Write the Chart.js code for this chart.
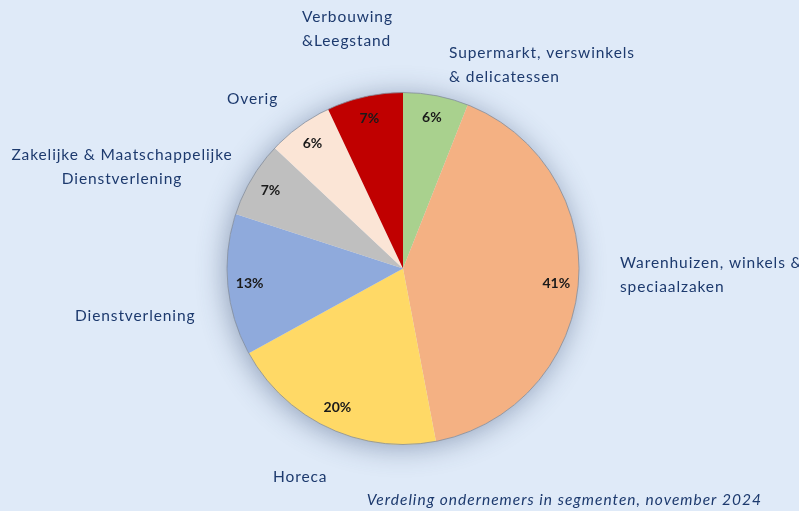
<!DOCTYPE html>
<html>
<head>
<meta charset="utf-8">
<script src="https://cdn.jsdelivr.net/npm/chart.js@4.4.1/dist/chart.umd.min.js"></script>
<style>
  html, body { margin:0; padding:0; background:#dfeaf8; }
  #wrap { width:799px; height:511px; position:relative; }
</style>
</head>
<body>
<div id="wrap"><canvas id="segChart" width="799" height="511"></canvas></div>
<script>
// data
const segments = ['Supermarkt, verswinkels & delicatessen', 'Warenhuizen, winkels & speciaalzaken', 'Horeca',
  'Dienstverlening', 'Zakelijke & Maatschappelijke Dienstverlening', 'Overig', 'Verbouwing &Leegstand']
const shares = [6, 41, 20, 13, 7, 6, 7]
const sliceColors = ['#a9d18e', '#f4b183', '#ffd966', '#8faadc', '#bfbfbf', '#fbe5d6', '#c00000']
const caption = 'Verdeling ondernemers in segmenten, november 2024'

// outside label lines + where they sit (x / align, first line y)
const labelLines = [
  ['Supermarkt, verswinkels', '& delicatessen'],
  ['Warenhuizen, winkels &', 'speciaalzaken'],
  ['Horeca'],
  ['Dienstverlening'],
  ['Zakelijke & Maatschappelijke', 'Dienstverlening'],
  ['Overig'],
  ['Verbouwing', '&Leegstand']
]
const labelSpots = [
  {x:449, y:53, align:'left'},
  {x:620, y:263, align:'left'},
  {x:273, y:477, align:'left'},
  {x:75, y:316, align:'left'},
  {x:122, y:155, align:'center'},
  {x:227, y:99, align:'left'},
  {x:302, y:17, align:'left'}
]

const textFont = '"Lato", "Noto Sans", sans-serif'
const navy = '#1d3a6e'

const pieDecor = {
  id:'pieDecor',
  beforeDatasetsDraw(chart){
    const arc = chart.getDatasetMeta(0).data[0]
    if(!arc) return
    const ctx = chart.ctx
    ctx.save()
    ctx.shadowColor = 'rgba(50,70,110,0.45)'
    ctx.shadowBlur = 28
    ctx.shadowOffsetX = -2
    ctx.shadowOffsetY = 3
    ctx.beginPath()
    ctx.arc(arc.x, arc.y, arc.outerRadius, 0, Math.PI*2)
    ctx.fillStyle = '#dfeaf8'
    ctx.fill()
    ctx.restore()
  },
  afterDatasetsDraw(chart){
    const meta = chart.getDatasetMeta(0)
    const ctx = chart.ctx
    const a0 = meta.data[0]
    ctx.save()
    ctx.beginPath()
    ctx.arc(a0.x, a0.y, a0.outerRadius, 0, Math.PI*2)
    ctx.strokeStyle = 'rgba(130,140,155,0.8)'
    ctx.lineWidth = 1
    ctx.stroke()

    // percentages inside the slices
    ctx.font = 'bold 14px ' + textFont
    ctx.fillStyle = '#1a1a1a'
    ctx.textAlign = 'center'
    ctx.textBaseline = 'middle'
    meta.data.forEach((arc, i) => {
      const mid = (arc.startAngle + arc.endAngle) / 2
      const r = arc.outerRadius * 0.875
      ctx.fillText(shares[i] + '%', arc.x + Math.cos(mid)*r, arc.y + Math.sin(mid)*r)
    })

    // outside labels
    ctx.font = '15.5px ' + textFont
    ctx.letterSpacing = '0.9px'
    ctx.fillStyle = navy
    labelLines.forEach((lines, i) => {
      const s = labelSpots[i]
      ctx.textAlign = s.align
      lines.forEach((t, j) => ctx.fillText(t, s.x, s.y + j*24))
    })

    ctx.font = 'italic 15.5px ' + textFont
    ctx.letterSpacing = '1px'
    ctx.textAlign = 'right'
    ctx.fillText(caption, 762, 500)
    ctx.restore()
  }
}

new Chart(document.getElementById('segChart'), {
  type:'pie',
  data:{
    labels:segments,
    datasets:[{
      data:shares,
      backgroundColor:sliceColors,
      borderWidth:0
    }]
  },
  options:{
    responsive:false,
    animation:false,
    layout:{ padding:{ top:92, bottom:66, left:227, right:220 } },
    plugins:{
      legend:{ display:false },
      tooltip:{ enabled:false }
    }
  },
  plugins:[pieDecor]
})
</script>
</body>
</html>
